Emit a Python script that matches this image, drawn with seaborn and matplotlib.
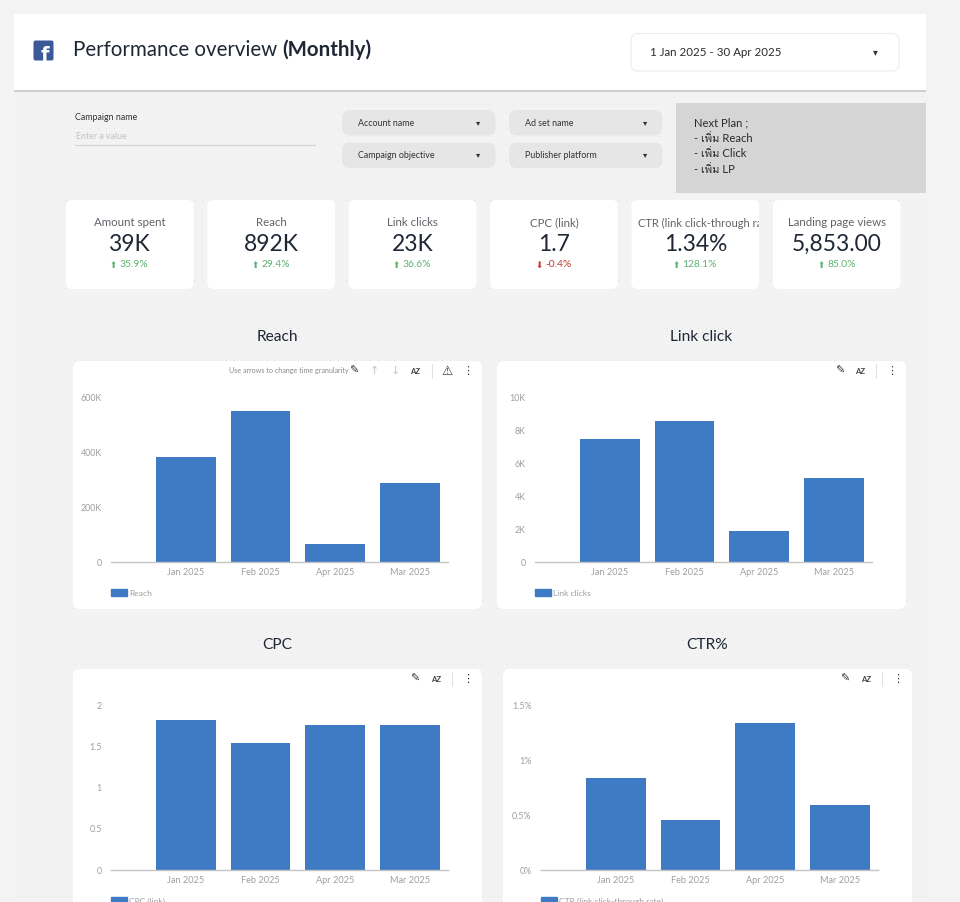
import numpy as np
import pandas as pd
import matplotlib
matplotlib.use("Agg")
import matplotlib.pyplot as plt
import seaborn as sns
from matplotlib import font_manager, ft2font
from matplotlib.patches import FancyBboxPatch, Rectangle, Patch
from matplotlib.ticker import FuncFormatter
from matplotlib.transforms import Bbox

# --- data ---
months = ["Jan 2025", "Feb 2025", "Apr 2025", "Mar 2025"]
reach = [384000, 550000, 66000, 287000]
link_clicks = [7500, 8560, 1890, 5130]
cpc_link = [1.83, 1.54, 1.77, 1.76]
ctr_pct = [0.84, 0.46, 1.34, 0.59]

reach_ticks = [0, 200000, 400000, 600000]
click_ticks = [0, 2000, 4000, 6000, 8000, 10000]
cpc_ticks = [0, 0.5, 1, 1.5, 2]
ctr_ticks = [0, 0.5, 1, 1.5]

kpi_labels = ["Amount spent", "Reach", "Link clicks", "CPC (link)",
              "CTR (link click-through rate)", "Landing page views"]
kpi_values = ["39K", "892K", "23K", "1.7", "1.34%", "5,853.00"]
kpi_deltas = [35.9, 29.4, 36.6, -0.4, 128.1, 85.0]

filter_names = ["Account name", "Campaign objective", "Ad set name", "Publisher platform"]
next_plan = ["Next Plan ;", "- เพิ่ม Reach", "- เพิ่ม Click", "- เพิ่ม LP"]
date_range = "1 Jan 2025 - 30 Apr 2025"

BLUE = "#3f7bc4"
DARK = "#1f2735"
GREY_TXT = "#9e9e9e"


def find_thai_family():
    # first installed font that has Thai glyphs, if any
    for f in font_manager.fontManager.ttflist:
        try:
            if 0x0E40 in ft2font.FT2Font(f.fname).get_charmap():
                return f.name
        except Exception:
            pass
    return None


sns.set_style("white")
fams = ["Lato"]
thai = find_thai_family()
if thai:
    fams.append(thai)
fams.append("DejaVu Sans")
plt.rcParams["font.family"] = fams

W, H = 960, 902
fig = plt.figure(figsize=(W / 100, H / 100), dpi=100)
fig.patch.set_facecolor("#f3f3f3")
r = fig.canvas.get_renderer()

# background layer in pixel coordinates (y down)
bg = fig.add_axes([0, 0, 1, 1])
bg.set_xlim(0, W)
bg.set_ylim(H, 0)
bg.axis("off")
bg.set_zorder(0)

# dotted canvas
gx, gy = np.meshgrid(np.arange(18, 926, 8), np.arange(96, H, 8))
bg.scatter(gx.ravel(), gy.ravel(), s=0.35, color="#d6d6d6", lw=0, zorder=0)


def box(x, y, w, h, fc, rad=6, ec="none", lw=0, z=1):
    p = FancyBboxPatch((x, y), w, h, boxstyle=f"round,pad=0,rounding_size={rad}",
                       fc=fc, ec=ec, lw=lw, zorder=z)
    bg.add_patch(p)
    return p


# --- header ---
bg.add_patch(Rectangle((14, 89), 912, 3, fc="#cdcdcd", lw=0, zorder=1))
bg.add_patch(Rectangle((14, 14), 912, 76, fc="white", lw=0, zorder=2))
box(33.5, 40.5, 20, 20, "#3b5998", rad=2, z=3)
bg.text(49.5, 61, "f", color="white", fontsize=14, fontweight="bold",
        ha="right", va="baseline", family="DejaVu Sans", zorder=4)
t1 = bg.text(73, 50, "Performance overview", fontsize=14.8, color=DARK,
             va="center", zorder=4)
bb = t1.get_window_extent(renderer=r)
bg.text(bb.x1 + 5, 50, "(Monthly)", fontsize=14.8, color=DARK,
        fontweight="bold", va="center", zorder=4)

box(631, 33.5, 268, 37.5, "white", rad=7, ec="#ececec", lw=0.8, z=3)
bg.text(650, 52.5, date_range, fontsize=8.3, color="#2b2b2b", va="center", zorder=4)
bg.text(875, 52, "▾", fontsize=7, color="#333333", ha="center", va="center",
        family="DejaVu Sans", zorder=4)

# --- filters ---
bg.text(75, 118, "Campaign name", fontsize=6.4, color="#333333", va="center", zorder=4)
bg.text(76, 136.5, "Enter a value", fontsize=6.4, color="#c2c2c2", va="center", zorder=4)
bg.plot([75, 315], [145, 145], color="#d4d4d4", lw=0.8, zorder=4)

for i, name in enumerate(filter_names):
    fx = 342 if i < 2 else 509
    fy = 110 if i % 2 == 0 else 142.5
    box(fx, fy, 153.5, 25.5, "#e6e6e6", rad=8, z=2)
    bg.text(fx + 16, fy + 13, name, fontsize=6.4, color="#333333", va="center", zorder=4)
    bg.text(fx + 136, fy + 12.5, "▾", fontsize=6, color="#333333", ha="center",
            va="center", family="DejaVu Sans", zorder=4)

bg.add_patch(Rectangle((676, 103), 250, 90, fc="#d5d5d5", lw=0, zorder=2))
for i, line in enumerate(next_plan):
    bg.text(694, 122.5 + i * 15.6, line, fontsize=8.1, color="#2b2b2b",
            va="center", zorder=4)

# --- KPI scorecards ---
for i, (lab, val, d) in enumerate(zip(kpi_labels, kpi_values, kpi_deltas)):
    cx = 66 + i * 141.4
    box(cx, 200, 127.5, 89, "white", rad=6, z=2)
    mid = cx + 63.75
    if len(lab) > 22:
        # long label runs past the card and is cut at its edge
        t = bg.text(cx + 6, 223, lab, fontsize=8.0, color="#5f6368",
                    va="center", ha="left", zorder=4)
        t.set_clip_on(True)
        t.set_clip_box(Bbox([[cx, H - 289], [cx + 127.5, H - 200]]))
    else:
        bg.text(mid, 223, lab, fontsize=8.3, color="#5f6368", va="center",
                ha="center", zorder=4)
    bg.text(mid, 244.5, val, fontsize=16.4, color=DARK, va="center",
            ha="center", zorder=4)
    up = d >= 0
    col = "#5cb270" if up else "#c0392b"
    tn = bg.text(mid, 264.5, f"{d:.1f}%", fontsize=7.4, color=col,
                 va="center", ha="center", zorder=4)
    w = tn.get_window_extent(renderer=r).width
    tn.set_x(mid + 4.5)
    bg.text(mid + 4.5 - w / 2 - 2.5, 265, "⬆" if up else "⬇", fontsize=6.3,
            color=col, va="center", ha="right", family="DejaVu Sans", zorder=4)

# --- bar chart cards ---
k_fmt = FuncFormatter(lambda v, p: "0" if v == 0 else f"{v / 1000:g}K")
n_fmt = FuncFormatter(lambda v, p: f"{v:g}")
p_fmt = FuncFormatter(lambda v, p: f"{v:g}%")

charts = [
    ("Reach", "Reach", reach, reach_ticks, k_fmt, 73, 361),
    ("Link click", "Link clicks", link_clicks, click_ticks, k_fmt, 497, 361),
    ("CPC", "CPC (link)", cpc_link, cpc_ticks, n_fmt, 73, 669),
    ("CTR%", "CTR (link click-through rate)", ctr_pct, ctr_ticks, p_fmt, 503, 669),
]

for n, (title, leg, vals, ticks, fmt, x0, y0) in enumerate(charts):
    box(x0, y0, 409, 248, "white", rad=7, z=2)
    bg.text(x0 + 204, y0 - 24, title, fontsize=11.2, color=DARK,
            ha="center", va="center", zorder=4)

    # toolbar
    right = x0 + 409
    if n == 0:
        icons = [(-128, "✎"), (-108, "↑"), (-87, "↓"), (-67, "AZ"),
                 (-35, "⚠"), (-14.5, "⋮")]
        sep = -50
        bg.text(229, y0 + 10, "Use arrows to change time granularity",
                fontsize=5.1, color="#8a8a8a", va="center", zorder=4)
    elif n == 1:
        icons = [(-66, "✎"), (-46, "AZ"), (-14.5, "⋮")]
        sep = -30
    else:
        icons = [(-67, "✎"), (-46, "AZ"), (-14.5, "⋮")]
        sep = -30
    for dx, g in icons:
        if g == "AZ":
            bg.text(right + dx, y0 + 10, g, fontsize=5.6, color="#444444",
                    ha="center", va="center", fontweight="bold", zorder=4)
        else:
            c = "#c4c4c4" if g in "↑↓" else "#333333"
            bg.text(right + dx, y0 + 10, g, fontsize=8 if g != "⚠" else 9,
                    color=c, ha="center", va="center", family="DejaVu Sans",
                    fontweight="bold" if g in "⚠✎" else "normal", zorder=4)
    bg.plot([right + sep, right + sep], [y0 + 3, y0 + 17], color="#e2e2e2",
            lw=0.8, zorder=4)

    # plot area in pixels
    left_px, right_px = x0 + 37.7, x0 + 374.7
    top_px, bot_px = y0 + 36.7, y0 + 201
    ax = fig.add_axes([left_px / W, 1 - bot_px / H,
                       (right_px - left_px) / W, (bot_px - top_px) / H])
    ax.set_zorder(3)
    ax.patch.set_alpha(0)
    df = pd.DataFrame({"month": months, "value": vals})
    sns.barplot(data=df, x="month", y="value", order=months, color=BLUE,
                saturation=1, width=0.8, errorbar=None, ax=ax, lw=0)
    ax.set_xlim(-1.0, 3.5)
    ax.set_ylim(0, ticks[-1])
    ax.set_yticks(ticks)
    ax.yaxis.set_major_formatter(fmt)
    ax.set_xlabel("")
    ax.set_ylabel("")
    for s in ["top", "right", "left"]:
        ax.spines[s].set_visible(False)
    ax.spines["bottom"].set_color("#c4c4c4")
    ax.spines["bottom"].set_linewidth(1)
    ax.tick_params(axis="y", length=0, pad=6.5, labelsize=6.4, labelcolor=GREY_TXT)
    ax.tick_params(axis="x", length=0, pad=4, labelsize=6.6, labelcolor=GREY_TXT)
    ax.grid(False)

    ax.legend(handles=[Patch(color=BLUE, label=leg)], loc="center left",
              bbox_to_anchor=(left_px / W, 1 - (bot_px + 31) / H),
              bbox_transform=fig.transFigure, frameon=False, borderpad=0,
              borderaxespad=0, handlelength=1.9, handleheight=0.85,
              handletextpad=0.3, fontsize=6.1, labelcolor=GREY_TXT)

fig.savefig("out.png", dpi=100)
